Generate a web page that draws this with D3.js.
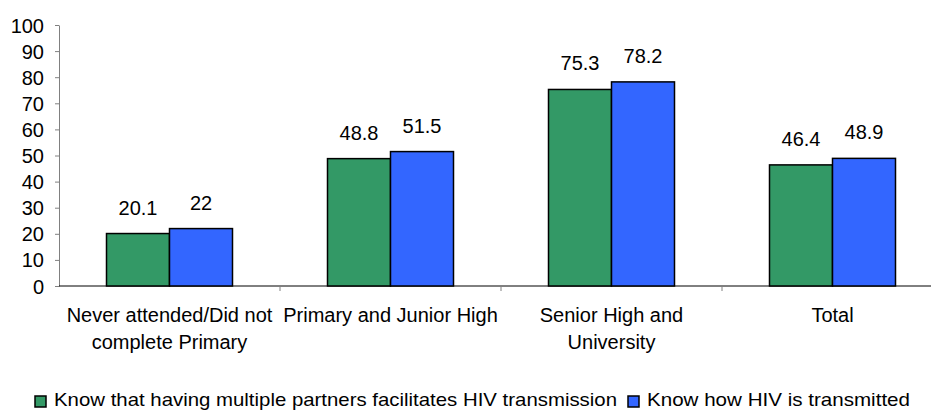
<!DOCTYPE html>
<html>
<head>
<meta charset="utf-8">
<script src="https://cdn.jsdelivr.net/npm/d3@7"></script>
<style>
  body { margin: 0; background: #fff; }
  svg text { font-family: "Liberation Sans", Arial, sans-serif; fill: #000; }
</style>
</head>
<body>
<div id="chart-area"></div>
<script>
// data
const categories = ["Never attended/Did not complete Primary", "Primary and Junior High", "Senior High and University", "Total"]
const catLines = [["Never attended/Did not", "complete Primary"], ["Primary and Junior High"], ["Senior High and", "University"], ["Total"]]
const seriesNames = ["Know  that having multiple partners facilitates HIV transmission", "Know  how  HIV is transmitted"]
const partnersValues = [20.1, 48.8, 75.3, 46.4]
const transmittedValues = [22, 51.5, 78.2, 48.9]
const yTicks = [0, 10, 20, 30, 40, 50, 60, 70, 80, 90, 100]
const colors = ["#339966", "#3366FF"]

const WIDTH = 931, HEIGHT = 411
const FONT = "20px"
const svg = d3.select("#chart-area").append("svg")
  .attr("width", WIDTH)
  .attr("height", HEIGHT)

const x = d3.scaleBand()
  .domain(categories)
  .range([59, 943])

const y = d3.scaleLinear()
  .domain([0, 100])
  .range([286, 25])

// y axis
const yAxis = svg.append("g")
  .attr("transform", "translate(59,0)")
  .call(d3.axisLeft(y).tickValues(yTicks).tickSize(4).tickSizeOuter(0))
yAxis.select(".domain").attr("stroke", "#808080")
yAxis.selectAll(".tick line").attr("stroke", "#808080")
yAxis.selectAll("text")
  .attr("x", -15)
  .attr("dy", "0.35em")
  .attr("font-size", FONT)
  .attr("fill", "#000")
  .attr("font-family", "Liberation Sans, Arial, sans-serif")

// x axis line and category ticks
svg.append("line")
  .attr("x1", 59).attr("x2", WIDTH)
  .attr("y1", y(0)).attr("y2", y(0))
  .attr("stroke", "#000").attr("stroke-width", 1)
svg.selectAll(".cat-tick")
  .data(categories.slice(1))
  .enter().append("line")
  .attr("x1", d => x(d)).attr("x2", d => x(d))
  .attr("y1", y(0)).attr("y2", y(0) + 5)
  .attr("stroke", "#808080")

// bars
const barW = 63
const series = [partnersValues, transmittedValues]
series.forEach((vals, si) => {
  const g = svg.append("g")
  g.selectAll("rect")
    .data(vals)
    .enter().append("rect")
    .attr("x", (d, i) => x(categories[i]) + x.bandwidth() / 2 - barW + si * barW)
    .attr("y", d => y(d))
    .attr("width", barW)
    .attr("height", d => y(0) - y(d))
    .attr("fill", colors[si])
    .attr("stroke", "#000")
    .attr("stroke-width", 1.5)
  g.selectAll("text")
    .data(vals)
    .enter().append("text")
    .attr("x", (d, i) => x(categories[i]) + x.bandwidth() / 2 - barW / 2 + si * barW)
    .attr("y", d => y(d) - 19)
    .attr("text-anchor", "middle")
    .attr("font-size", FONT)
    .text(d => d)
})

// x labels
catLines.forEach((lines, i) => {
  const t = svg.append("text")
    .attr("text-anchor", "middle")
    .attr("font-size", FONT)
  lines.forEach((l, li) => {
    t.append("tspan")
      .attr("x", x(categories[i]) + x.bandwidth() / 2)
      .attr("y", 322 + li * 27)
      .text(l)
  })
})

// legend
const legend = [
  { x: 35, tx: 54, len: 563 },
  { x: 628, tx: 647, len: 263 }
]
legend.forEach((l, i) => {
  svg.append("rect")
    .attr("x", l.x).attr("y", 396)
    .attr("width", 11).attr("height", 11)
    .attr("fill", colors[i])
    .attr("stroke", "#000").attr("stroke-width", 1.5)
  svg.append("text")
    .attr("x", l.tx).attr("y", 406)
    .attr("font-size", "19px")
    .attr("textLength", l.len)
    .attr("lengthAdjust", "spacingAndGlyphs")
    .text(seriesNames[i])
})
</script>
</body>
</html>
